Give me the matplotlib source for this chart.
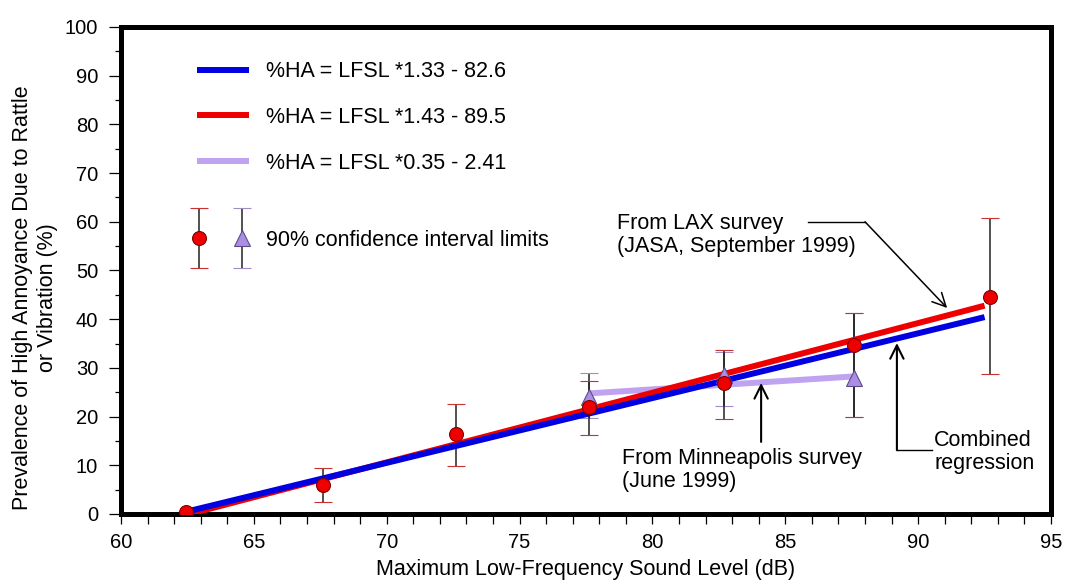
import matplotlib
matplotlib.use("Agg")
import matplotlib.pyplot as plt
from matplotlib.container import ErrorbarContainer
from matplotlib.legend_handler import HandlerTuple, HandlerErrorbar
from matplotlib.ticker import MultipleLocator

plt.rcParams['font.family'] = ['Liberation Sans', 'DejaVu Sans']

# LAX survey points (red circles) with 90% confidence limits
lax_x = [62.45, 67.6, 72.6, 77.6, 82.7, 87.6, 92.7]
lax_y = [0.5, 6.0, 16.4, 22.0, 26.8, 34.7, 44.6]
lax_lo = [0.5, 2.5, 9.9, 16.2, 19.5, 20.0, 28.7]
lax_hi = [0.5, 9.4, 22.6, 27.3, 33.7, 41.3, 60.8]

# Minneapolis survey points (purple triangles)
msp_x = [77.6, 82.7, 87.6]
msp_y = [24.0, 28.5, 28.0]
msp_lo = [19.7, 22.2, 20.0]
msp_hi = [29.0, 33.3, 41.3]

# regression lines: (slope, intercept, x range, label)
fit_combined = (1.33, -82.6, [62.5, 92.5], "%HA = LFSL *1.33 - 82.6")
fit_lax = (1.43, -89.5, [62.5, 92.5], "%HA = LFSL *1.43 - 89.5")
fit_msp = (0.35, -2.41, [77.6, 87.6], "%HA = LFSL *0.35 - 2.41")

BLUE = '#0000e0'
RED = '#ee0000'
LILAC = '#bfa2f0'
FS = 15.5

fig = plt.figure(figsize=(10.68, 5.84), dpi=100)
ax = fig.add_axes([0.1133, 0.1199, 0.8708, 0.8339])


def fit_line(fit, color, z):
    slope, icpt, xr, label = fit
    yr = [slope * v + icpt for v in xr]
    line, = ax.plot(xr, yr, color=color, lw=4.3, solid_capstyle='butt', zorder=z, label=label)
    return line


def with_errors(xs, ys, lo, hi, marker, face, edge, ms, cap_color, z):
    err = [[y - l for y, l in zip(ys, lo)], [h - y for y, h in zip(ys, hi)]]
    cont = ax.errorbar(xs, ys, yerr=err, fmt=marker, ms=ms, mfc=face, mec=edge, mew=0.8,
                       ecolor='#222222', elinewidth=1.1, capsize=6.5, capthick=1.3, zorder=z)
    for cap in cont[1]:
        cap.set_color(cap_color)
        cap.set_markeredgecolor(cap_color)
    cont[0].set_zorder(z + 5)
    return cont


tri = with_errors(msp_x, msp_y, msp_lo, msp_hi, '^', '#ab8de6', '#5c4c86', 12, '#a08cc4', 2)
circ = with_errors(lax_x, lax_y, lax_lo, lax_hi, 'o', '#ee0000', '#800000', 10, '#c83232', 2.5)

l_msp = fit_line(fit_msp, LILAC, 3)
l_lax = fit_line(fit_lax, RED, 4)
l_comb = fit_line(fit_combined, BLUE, 5)

ax.set_xlim(60, 95)
ax.set_ylim(0, 100)
ax.xaxis.set_major_locator(MultipleLocator(5))
ax.xaxis.set_minor_locator(MultipleLocator(1))
ax.yaxis.set_major_locator(MultipleLocator(10))
ax.yaxis.set_minor_locator(MultipleLocator(5))
ax.tick_params(axis='x', which='both', direction='out', length=7, width=0.9, pad=7, labelsize=14.5)
ax.tick_params(axis='y', which='major', direction='out', length=8.5, width=0.9, pad=8, labelsize=14.5)
ax.tick_params(axis='y', which='minor', direction='out', length=4.3, width=0.9)
for s in ax.spines.values():
    s.set_linewidth(3.6)

ax.set_xlabel("Maximum Low-Frequency Sound Level (dB)", fontsize=FS, labelpad=5)
fig.text(0.033, 0.49, "Prevalence of High Annoyance Due to Rattle\nor Vibration (%)",
         rotation=90, ha='center', va='center', fontsize=FS, linespacing=1.25, multialignment='center')

# legend for regression lines
leg1 = ax.legend(handles=[l_comb, l_lax, l_msp], loc='center left',
                 bbox_to_anchor=(0.1845, 0.7988), bbox_transform=fig.transFigure,
                 frameon=False, fontsize=FS, handlelength=2.4, handletextpad=0.8,
                 labelspacing=1.15, borderpad=0, borderaxespad=0)
ax.add_artist(leg1)

# legend for the confidence limits
ax.legend([(circ, tri)], ["90% confidence interval limits"], loc='center left',
          bbox_to_anchor=(0.1662, 0.589), bbox_transform=fig.transFigure,
          frameon=False, fontsize=FS, handlelength=4.0, handletextpad=0.1,
          borderpad=0, borderaxespad=0,
          handler_map={tuple: HandlerTuple(ndivide=None, pad=0),
                       ErrorbarContainer: HandlerErrorbar(yerr_size=1.4)})

# annotations
arrow = dict(arrowstyle='->', color='black', lw=1.1, mutation_scale=24, shrinkA=0, shrinkB=0)
ax.text(78.67, 57.3, "From LAX survey\n(JASA, September 1999)", fontsize=FS, ha='left', va='center',
        linespacing=1.1)
ax.plot([85.86, 88.0], [60.0, 60.0], color='black', lw=1.0)
ax.annotate("", xy=(91.09, 42.3), xytext=(88.0, 60.0), arrowprops=arrow)

ax.text(78.86, 9.0, "From Minneapolis survey\n(June 1999)", fontsize=FS, ha='left', va='center',
        linespacing=1.1)
ax.annotate("", xy=(84.09, 26.9), xytext=(84.09, 14.8), arrowprops=dict(arrow, lw=1.5))

ax.text(90.6, 12.7, "Combined\nregression", fontsize=FS, ha='left', va='center', linespacing=1.1)
ax.plot([90.52, 89.2], [13.1, 13.1], color='black', lw=1.0)
ax.annotate("", xy=(89.2, 35.1), xytext=(89.2, 13.1), arrowprops=dict(arrow, lw=1.5))

fig.savefig("out.png", dpi=100)
